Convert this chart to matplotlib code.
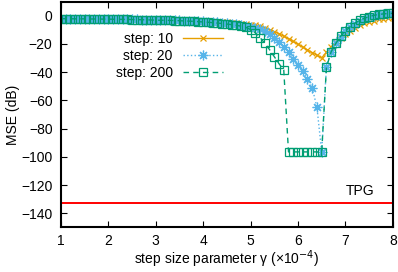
import numpy as np
import matplotlib
matplotlib.use("Agg")
import matplotlib.pyplot as plt

plt.rcParams['font.family'] = ['Liberation Sans', 'DejaVu Sans']
plt.rcParams['font.size'] = 10

# step size parameter gamma (x1e-4), sampled every 0.1
gamma = np.round(np.arange(1.0, 8.01, 0.1), 1)

mse_step10 = [
    -2.0, -2.0, -2.0, -2.0, -2.1, -2.1, -2.1, -2.1, -2.2, -2.2,
    -2.2, -2.3, -2.3, -2.4, -2.4, -2.5, -2.5, -2.6, -2.7, -2.7,
    -2.8, -2.9, -3.0, -3.0, -3.1, -3.2, -3.3, -3.4, -3.6, -3.7,
    -3.8, -4.0, -4.1, -4.3, -4.5, -4.7, -5.0, -5.2, -5.5, -5.9,
    -6.3, -6.8, -7.5, -8.5, -9.8, -11.2, -12.8, -14.5, -16.3, -18.2,
    -20.2, -22.2, -24.2, -26.1, -28.0, -29.8, -26.0, -22.0, -18.5, -15.5,
    -12.8, -10.5, -8.5, -6.8, -5.4, -4.3, -3.4, -2.6, -2.0, -1.5,
    -1.0,
]
mse_step20 = [
    -2.0, -2.0, -2.0, -2.0, -2.1, -2.1, -2.1, -2.2, -2.2, -2.2,
    -2.3, -2.3, -2.4, -2.4, -2.5, -2.5, -2.6, -2.7, -2.7, -2.8,
    -2.9, -3.0, -3.0, -3.1, -3.2, -3.3, -3.4, -3.5, -3.7, -3.8,
    -4.0, -4.2, -4.4, -4.6, -4.9, -5.2, -5.6, -6.0, -6.5, -7.1,
    -7.8, -8.6, -9.6, -10.8, -12.8, -15.6, -18.8, -22.2, -26.0, -30.5,
    -35.0, -39.5, -45.0, -51.0, -65.0, -96.5, -36.0, -25.5, -19.5, -14.8,
    -11.0, -8.0, -5.5, -3.5, -2.0, -0.8, 0.0, 0.6, 1.0, 1.3,
    1.5,
]
mse_step200 = [
    -2.1, -2.1, -2.1, -2.2, -2.2, -2.2, -2.3, -2.3, -2.3, -2.4,
    -2.4, -2.5, -2.5, -2.6, -2.6, -2.7, -2.8, -2.8, -2.9, -3.0,
    -3.1, -3.2, -3.2, -3.3, -3.4, -3.5, -3.7, -3.8, -4.0, -4.2,
    -4.4, -4.6, -4.9, -5.2, -5.5, -5.9, -6.3, -6.8, -7.4, -8.2,
    -9.8, -12.0, -15.5, -19.5, -24.0, -29.0, -34.0, -38.5, -96.5, -96.5,
    -96.5, -96.5, -96.5, -96.5, -96.5, -96.5, -36.5, -25.5, -19.5, -14.5,
    -10.8, -7.8, -5.3, -3.3, -1.8, -0.6, 0.3, 0.9, 1.3, 1.6,
    1.7,
]
tpg_level = -133

fig = plt.figure(figsize=(3.98, 2.72), dpi=100)
ax = fig.add_axes([0.153, 0.164, 0.834, 0.830])

ax.axhline(tpg_level, color='#ff0000', lw=1.4, zorder=1)
ax.text(7.0, tpg_level + 3.5, 'TPG', ha='left', va='bottom')

ax.plot(gamma, mse_step10, color='#e69f00', lw=1.0, ls='-',
        marker='x', ms=5, mew=0.9, label='step: 10')
ax.plot(gamma, mse_step20, color='#56b4e9', lw=1.0, ls=':',
        marker=(8, 2, 0), ms=7, mew=0.9, label='step: 20')
ax.plot(gamma, mse_step200, color='#009e73', lw=1.0, ls=(0, (4, 3)),
        marker='s', ms=6, mew=0.9, mfc='none', label='step: 200')

ax.set_xlim(1, 8)
ax.set_ylim(-150, 10)
ax.set_xticks(range(1, 9))
ax.set_yticks(range(-140, 1, 20))
ax.set_yticklabels(['\u2212%d' % -v if v < 0 else '%d' % v for v in range(-140, 1, 20)])
ax.tick_params(direction='in', top=True, right=True, length=4, width=0.8, pad=6)
ax.tick_params(axis='x', pad=5)
for s in ax.spines.values():
    s.set_linewidth(1.5)

ax.set_xlabel('step size parameter \u03b3 (\u00d710$^{-4}$)', labelpad=0)
ax.set_ylabel('MSE (dB)', labelpad=1)

leg = ax.legend(loc='upper left', bbox_to_anchor=(0.165, 0.865), frameon=False,
                markerfirst=False, handlelength=2.9, handletextpad=0.7,
                labelspacing=0.2, borderpad=0, borderaxespad=0)
for col in leg._legend_handle_box.get_children():
    col.align = 'right'

fig.savefig('out.png', dpi=100)
